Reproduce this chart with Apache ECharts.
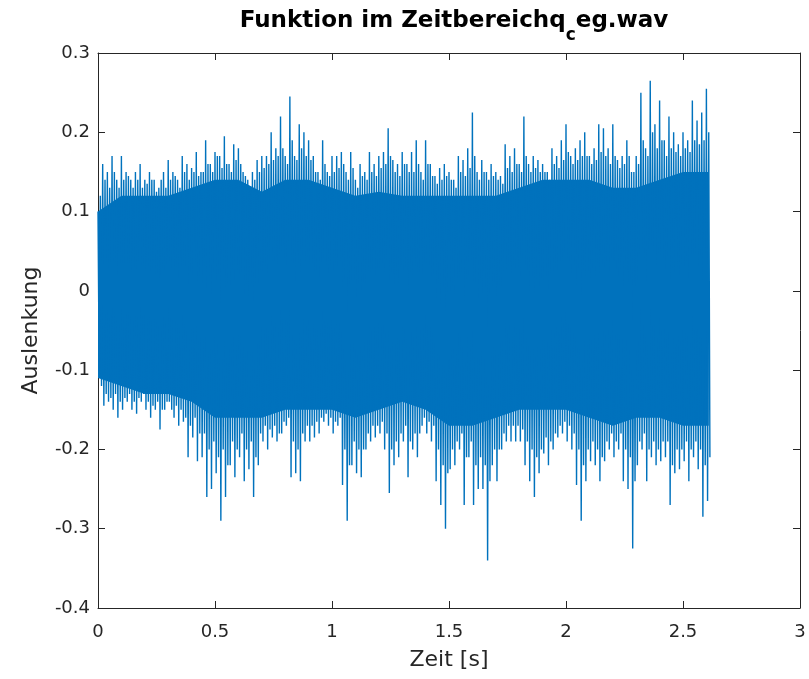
<!DOCTYPE html>
<html>
<head>
<meta charset="utf-8">
<script src="https://cdn.jsdelivr.net/npm/echarts@6/dist/echarts.min.js"></script>
<style>html,body{margin:0;padding:0;background:#fff}#c{width:809px;height:679px}</style>
</head>
<body>
<div id="c"></div>
<script>
// Largest positive / negative excursion per 0.02 s bin
const peakStart = 0, peakStep = 0.02;
const peakHi = [0.10,0.16,0.15,0.17,0.14,0.17,0.15,0.14,0.15,0.16,0.14,0.15,0.14,0.13,0.15,0.165,0.15,0.14,0.17,0.16,0.155,0.175,
0.15,0.19,0.16,0.175,0.17,0.195,0.16,0.185,0.18,0.15,0.14,0.15,0.165,0.17,0.17,0.20,0.18,0.22,0.17,0.245,0.17,0.21,0.20,
0.19,0.17,0.15,0.19,0.15,0.17,0.17,0.175,0.15,0.175,0.14,0.16,0.15,0.175,0.16,0.17,0.175,0.205,0.165,0.16,0.175,0.16,
0.175,0.19,0.15,0.19,0.16,0.145,0.155,0.16,0.15,0.14,0.17,0.165,0.18,0.225,0.15,0.165,0.15,0.16,0.15,0.145,0.185,0.17,
0.18,0.16,0.22,0.16,0.17,0.165,0.16,0.15,0.18,0.17,0.19,0.21,0.17,0.18,0.19,0.20,0.17,0.18,0.21,0.205,0.18,0.21,0.165,
0.17,0.19,0.15,0.17,0.25,0.18,0.265,0.21,0.24,0.19,0.22,0.20,0.185,0.20,0.19,0.24,0.215,0.225,0.255];
const peakLo = [-0.10,-0.145,-0.14,-0.15,-0.16,-0.15,-0.14,-0.15,-0.155,-0.14,-0.15,-0.16,-0.15,-0.175,-0.15,-0.14,-0.16,-0.17,-0.165,-0.21,-0.185,-0.215,
-0.21,-0.26,-0.25,-0.23,-0.29,-0.26,-0.22,-0.235,-0.21,-0.24,-0.225,-0.26,-0.22,-0.19,-0.20,-0.185,-0.19,-0.18,-0.17,-0.235,-0.23,-0.24,-0.19,
-0.19,-0.185,-0.18,-0.165,-0.17,-0.18,-0.17,-0.245,-0.29,-0.22,-0.23,-0.235,-0.20,-0.19,-0.185,-0.18,-0.20,-0.255,-0.22,-0.21,-0.19,-0.235,
-0.20,-0.21,-0.17,-0.18,-0.19,-0.24,-0.27,-0.30,-0.225,-0.22,-0.20,-0.27,-0.21,-0.27,-0.25,-0.25,-0.34,-0.22,-0.24,-0.20,-0.19,-0.19,
-0.19,-0.19,-0.22,-0.24,-0.26,-0.23,-0.205,-0.22,-0.20,-0.185,-0.18,-0.19,-0.20,-0.245,-0.29,-0.24,-0.215,-0.22,-0.24,-0.215,-0.20,-0.21,-0.20,
-0.24,-0.25,-0.325,-0.22,-0.20,-0.24,-0.21,-0.22,-0.215,-0.21,-0.27,-0.23,-0.225,-0.215,-0.24,-0.21,-0.225,-0.285,-0.265];
// Secondary (smaller) excursions in the half-bins between them
const subHi = [0.12,0.14,0.13,0.15,0.13,0.14,0.145,0.13,0.14,0.13,0.135,0.14,0.125,0.14,0.13,0.14,0.145,0.13,0.15,0.14,0.15,0.145,
0.15,0.16,0.15,0.17,0.155,0.16,0.15,0.165,0.16,0.145,0.13,0.14,0.15,0.155,0.16,0.165,0.17,0.18,0.16,0.19,0.165,0.18,0.17,
0.165,0.15,0.14,0.16,0.145,0.15,0.155,0.16,0.14,0.155,0.13,0.145,0.14,0.15,0.145,0.155,0.16,0.17,0.15,0.145,0.16,0.15,
0.15,0.16,0.14,0.16,0.145,0.135,0.14,0.145,0.14,0.13,0.15,0.145,0.155,0.17,0.14,0.15,0.14,0.145,0.14,0.135,0.155,0.15,
0.16,0.15,0.17,0.15,0.155,0.15,0.15,0.14,0.16,0.155,0.165,0.175,0.16,0.165,0.17,0.17,0.16,0.165,0.175,0.17,0.16,0.17,0.155,
0.16,0.17,0.15,0.16,0.19,0.17,0.20,0.18,0.19,0.17,0.18,0.175,0.17,0.18,0.175,0.19,0.185,0.19,0.20];
const subLo = [-0.12,-0.13,-0.135,-0.13,-0.14,-0.135,-0.13,-0.14,-0.135,-0.13,-0.14,-0.145,-0.14,-0.15,-0.14,-0.15,-0.145,-0.15,-0.16,-0.17,-0.16,-0.18,
-0.18,-0.20,-0.19,-0.21,-0.20,-0.22,-0.19,-0.20,-0.18,-0.20,-0.19,-0.21,-0.18,-0.17,-0.175,-0.17,-0.18,-0.165,-0.16,-0.19,-0.20,-0.18,-0.17,
-0.17,-0.165,-0.16,-0.155,-0.16,-0.165,-0.16,-0.20,-0.22,-0.19,-0.20,-0.20,-0.18,-0.17,-0.17,-0.165,-0.18,-0.20,-0.19,-0.18,-0.17,-0.19,
-0.18,-0.18,-0.16,-0.165,-0.17,-0.20,-0.22,-0.23,-0.20,-0.19,-0.18,-0.21,-0.19,-0.22,-0.21,-0.22,-0.24,-0.20,-0.20,-0.18,-0.17,-0.17,
-0.17,-0.175,-0.19,-0.20,-0.21,-0.20,-0.185,-0.19,-0.18,-0.17,-0.165,-0.17,-0.18,-0.20,-0.22,-0.20,-0.19,-0.20,-0.21,-0.19,-0.18,-0.19,-0.18,
-0.20,-0.21,-0.24,-0.19,-0.18,-0.20,-0.19,-0.20,-0.19,-0.19,-0.22,-0.20,-0.20,-0.19,-0.20,-0.19,-0.20,-0.22,-0.21];

// Dense (solid) core band of the waveform
const coreTime = [0,0.1,0.2,0.3,0.4,0.5,0.6,0.7,0.8,0.9,1.0,1.1,1.2,1.3,1.4,1.5,1.6,1.7,1.8,1.9,2.0,2.1,2.2,2.3,2.4,2.5,2.61];
const coreHi = [0.10,0.12,0.12,0.12,0.13,0.14,0.14,0.125,0.14,0.14,0.13,0.12,0.125,0.12,0.12,0.12,0.12,0.12,0.13,0.14,0.14,0.14,0.13,0.13,0.14,0.15,0.15];
const coreLo = [-0.11,-0.12,-0.13,-0.13,-0.14,-0.16,-0.16,-0.16,-0.15,-0.15,-0.15,-0.16,-0.15,-0.14,-0.15,-0.17,-0.17,-0.16,-0.15,-0.15,-0.15,-0.16,-0.17,-0.16,-0.16,-0.17,-0.17];

const xTicks = [0, 3, 0.5];
const yTicks = [-0.4, 0.3, 0.1];

const BLUE = '#0072BD';
const AX = '#262626';
const FONT = 'DejaVu Sans';

const zig = [];
for (let i = 0; i < peakHi.length; i++) {
  const t = peakStart + i * peakStep;
  zig.push([t, peakHi[i]]);
  zig.push([t + peakStep * 0.25, peakLo[i]]);
  zig.push([t + peakStep * 0.5, subHi[i]]);
  zig.push([t + peakStep * 0.75, subLo[i]]);
}
const coreData = coreTime.map((t, i) => [t, coreLo[i], coreHi[i]]);

const chart = echarts.init(document.getElementById('c'), null, {renderer: 'canvas'});
const tickStyle = {show: true, inside: true, length: 7, lineStyle: {color: AX, width: 1}};
const lineStyle = {show: true, onZero: false, lineStyle: {color: AX, width: 1}};
chart.setOption({
  animation: false,
  backgroundColor: '#fff',
  title: {
    text: '{a|Funktion im Zeitbereichq}{b|c}{a|eg.wav}',
    left: 449, top: 5, textAlign: 'center',
    textStyle: {
      rich: {
        a: {fontFamily: FONT, fontWeight: 'bold', fontSize: 23, color: '#000', lineHeight: 29, verticalAlign: 'top'},
        b: {fontFamily: FONT, fontWeight: 'bold', fontSize: 17, color: '#000', lineHeight: 17, verticalAlign: 'top', padding: [17, 0, 0, 0]}
      }
    }
  },
  grid: {left: 98, right: 9, top: 53, bottom: 71, containLabel: false},
  xAxis: [{
    type: 'value', min: xTicks[0], max: xTicks[1], interval: xTicks[2], position: 'bottom',
    axisLine: lineStyle, axisTick: tickStyle, splitLine: {show: false},
    axisLabel: {color: AX, fontFamily: FONT, fontSize: 18, margin: 15},
    name: 'Zeit [s]', nameLocation: 'middle', nameGap: 41,
    nameTextStyle: {color: AX, fontFamily: FONT, fontSize: 22}
  }, {
    type: 'value', min: xTicks[0], max: xTicks[1], interval: xTicks[2], position: 'top',
    axisLine: lineStyle, axisTick: tickStyle, splitLine: {show: false}, axisLabel: {show: false}
  }],
  yAxis: [{
    type: 'value', min: yTicks[0], max: yTicks[1], interval: yTicks[2], position: 'left',
    axisLine: lineStyle, axisTick: tickStyle, splitLine: {show: false},
    axisLabel: {color: AX, fontFamily: FONT, fontSize: 18, margin: 8},
    name: 'Auslenkung', nameLocation: 'middle', nameGap: 56,
    nameTextStyle: {color: AX, fontFamily: FONT, fontSize: 22}
  }, {
    type: 'value', min: yTicks[0], max: yTicks[1], interval: yTicks[2], position: 'right',
    axisLine: lineStyle, axisTick: tickStyle, splitLine: {show: false}, axisLabel: {show: false}
  }],
  series: [
    {
      type: 'custom', data: coreData, encode: {x: 0, y: [1, 2]}, silent: true,
      renderItem: function (params, api) {
        if (params.dataIndex !== 0) return null;
        const pts = [];
        for (let i = 0; i < coreTime.length; i++) pts.push(api.coord([coreTime[i], coreHi[i]]));
        for (let i = coreTime.length - 1; i >= 0; i--) pts.push(api.coord([coreTime[i], coreLo[i]]));
        return {type: 'polygon', shape: {points: pts}, style: {fill: BLUE}};
      }
    },
    {type: 'line', data: zig, showSymbol: false, symbol: 'none', lineStyle: {width: 1.4, color: BLUE}, silent: true}
  ]
});
</script>
</body>
</html>
